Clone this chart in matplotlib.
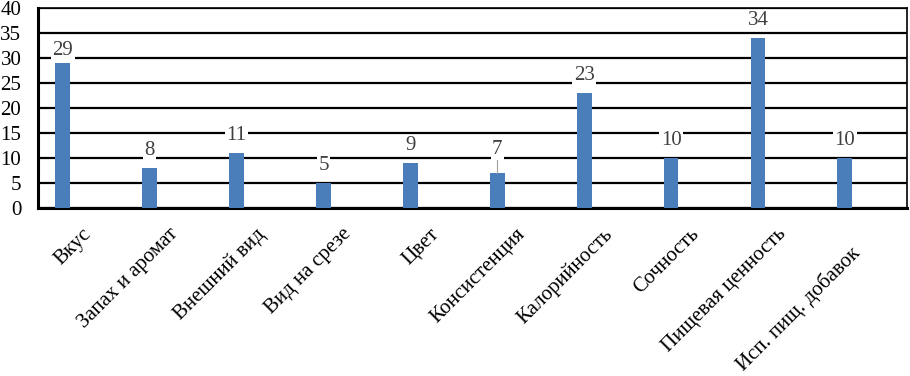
import matplotlib
matplotlib.use("Agg")
import matplotlib.pyplot as plt
import matplotlib.transforms as mtransforms
import numpy as np

categories = ["Вкус", "Запах и аромат", "Внешний вид", "Вид на срезе", "Цвет",
              "Консистенция", "Калорийность", "Сочность", "Пищевая ценность",
              "Исп. пищ. добавок"]
values = [29, 8, 11, 5, 9, 7, 23, 10, 34, 10]
yticks = [0, 5, 10, 15, 20, 25, 30, 35, 40]

plt.rcParams['font.family'] = ['Liberation Serif', 'DejaVu Serif']

fig = plt.figure(figsize=(9.1, 3.76), dpi=100)
ax = fig.add_axes([38/910, (376-208)/376, (907-38)/910, 200/376])

x = np.arange(len(categories))
offset = -0.215
ax.bar(x + offset, values, width=0.17, color="#4a7ebb", zorder=3)

ax.set_xlim(-0.5, len(categories) - 0.5)
ax.set_ylim(0, 40)
ax.set_yticks(yticks)
ax.yaxis.grid(True, color="black", linewidth=1.6, zorder=1)
ax.set_axisbelow(True)
for s in ax.spines.values():
    s.set_color("black")
    s.set_linewidth(1.2)
ax.spines['bottom'].set_linewidth(2.2)
ax.spines['left'].set_linewidth(2.2)
ax.tick_params(axis='both', length=0, labelsize=15, colors="black")
ax.tick_params(axis='y', pad=12)
ax.tick_params(axis='x', pad=12)

ax.set_xticks(x)
labels = ax.set_xticklabels(categories, rotation=45, ha='right', va='top', rotation_mode='anchor')
# last label sits a bit lower-left in the reference
shift = mtransforms.ScaledTranslation(-14/100, -18/100, fig.dpi_scale_trans)
labels[-1].set_transform(labels[-1].get_transform() + shift)

box = dict(facecolor='white', edgecolor='none', pad=1.0)
for i, v in enumerate(values):
    if categories[i] == "Консистенция":
        ax.plot([i + offset, i + offset], [v, v + 2.6], color="#a0a0a0", lw=0.8, zorder=4)
        ax.text(i + offset, v + 3.8, str(v), ha='center', va='baseline', fontsize=15,
                color="#404040", bbox=box, zorder=5)
    elif v == 29:
        ax.text(i + offset, v + 1.6, str(v), ha='center', va='baseline', fontsize=15,
                color="#404040", bbox=box, zorder=5)
    else:
        ax.text(i + offset, v + 2.6, str(v), ha='center', va='baseline', fontsize=15,
                color="#404040", bbox=box, zorder=5)

fig.savefig("out.png", dpi=100)
